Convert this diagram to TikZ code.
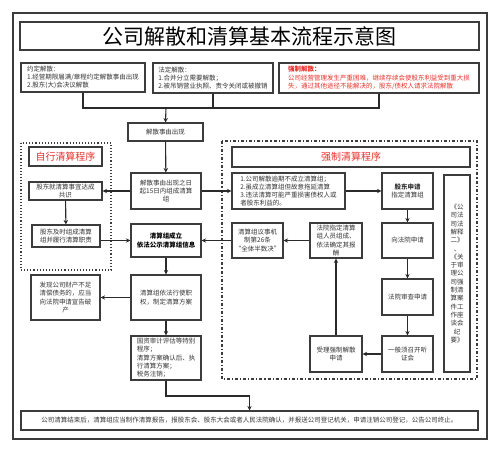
\documentclass[tikz,border=0pt]{standalone}
\usepackage{fontspec}
\setmainfont{Noto Sans CJK SC}
\usetikzlibrary{arrows.meta}
\definecolor{boxc}{HTML}{3C3C3C}
\definecolor{linec}{HTML}{2A2A2A}
\definecolor{txtc}{HTML}{333333}
\definecolor{redc}{HTML}{E8312A}
\begin{document}
\begin{tikzpicture}[x=1pt,y=-1pt,
  box/.style={draw=boxc, line width=1.1pt, align=center, inner sep=1pt, text=txtc,
    font=\fontsize{6.5}{8.3}\selectfont},
  arr/.style={-{Stealth[length=4.5pt,width=4.5pt]}, line width=1.1pt, draw=linec},
  ln/.style={line width=1.1pt, draw=linec},
  frame/.style={draw=boxc, line width=1.1pt}]
\useasboundingbox (0,0) rectangle (499,452);
% outer frame
\draw[frame] (13,13) rectangle (487,439);
% title
\node[box, minimum width=459pt, minimum height=28pt, text=black,
  font=\fontsize{21}{24}\selectfont] (title) at (249.5,36) {公司解散和清算基本流程示意图};
% top three boxes
\node[box, minimum width=124pt, minimum height=29pt, align=left] (yd) at (83,77.5)
  {约定解散：\\1.经营期限届满/章程约定解散事由出现\\2.股东(大)会决议解散};
\node[box, minimum width=120pt, minimum height=30pt, align=left] (fd) at (213,78)
  {法定解散：\\1.合并分立需要解散；\\2.被吊销营业执照、责令关闭或被撤销};
\node[box, minimum width=200pt, minimum height=30pt, align=left, text=redc] (qz) at (379,78)
  {\textbf{强制解散：}\\公司经营管理发生严重困难，继续存续会使股东利益受到重大损\\失，通过其他途径不能解决的，股东/债权人请求法院解散};
\coordinate (j) at (166,108);
\draw[ln] (yd.south) |- (j) -| (qz.south);
\draw[ln] (fd.south) -- (fd.south |- j);
% main column
\node[box, minimum width=75pt, minimum height=18pt] (jssy) at (165.5,132) {解散事由出现};
\draw[arr] (j) -- (jssy.north);
\node[box, minimum width=70pt, minimum height=36pt] (d15) at (166,191)
  {解散事由出现之日\\起15日内组成清算\\组};
\node[box, minimum width=70pt, minimum height=33pt, font=\fontsize{6.5}{8.3}\selectfont\bfseries, text=black] (qsz) at (166,240.5)
  {清算组成立\\依法公示清算组信息};
\node[box, minimum width=70pt, minimum height=45pt] (yf) at (166,297.5)
  {清算组依法行使职\\权，制定清算方案};
\node[box, minimum width=70pt, minimum height=44pt, align=left] (gz) at (166,358)
  {国资审计评估等特别\\程序；\\清算方案确认后、执\\行清算方案；\\税务注销；};
\node[box, minimum width=457pt, minimum height=19pt] (final) at (249.5,420.5)
  {公司清算结束后，清算组应当制作清算报告，报股东会、股东大会或者人民法院确认，并报送公司登记机关，申请注销公司登记，公告公司终止。};
% self liquidation
\draw[draw=boxc, line width=1.1pt, dotted] (21,143) rectangle (111,270);
\node[box, minimum width=73pt, minimum height=19pt, text=redc,
  font=\fontsize{10}{12}\selectfont] (zxt) at (65.5,156.5) {自行清算程序};
\node[box, minimum width=73pt, minimum height=18pt] (gdgs) at (65.5,191)
  {股东就清算事宜达成\\共识};
\node[box, minimum width=68pt, minimum height=22pt] (gdjs) at (66,236)
  {股东及时组成清算\\组并履行清算职责};
\node[box, minimum width=69pt, minimum height=45pt] (fx) at (65.5,297.5)
  {发现公司财产不足\\清偿债务的，应当\\向法院申请宣告破\\产};
% forced liquidation
\draw[draw=boxc, line width=1.1pt, dash dot] (222,141) rectangle (477,379);
\node[box, minimum width=238pt, minimum height=20pt, text=redc,
  font=\fontsize{10}{12}\selectfont] (qzt) at (351,157) {强制清算程序};
\node[box, minimum width=113pt, minimum height=36pt, align=left] (sit) at (288.5,191)
  {1.公司解散逾期不成立清算组；\\2.虽成立清算组但故意拖延清算\\3.违法清算可能严重损害债权人或\\者股东利益的。};
\node[box, minimum width=51pt, minimum height=36pt] (gdsq) at (407.5,191)
  {\textbf{股东申请}\\指定清算组};
\node[box, minimum width=26pt, minimum height=197pt] (law) at (457,273.5)
  {《公\\司法\\司法\\解释\\二》\\、\\《关\\于审\\理公\\司强\\制清\\算案\\件工\\作座\\谈会\\纪\\要》};
\node[box, minimum width=51pt, minimum height=35pt] (ysjz) at (257.5,240.5)
  {清算组议事机\\制第26条\\“全体半数决”};
\node[box, minimum width=52pt, minimum height=35pt] (fyzd) at (336,240.5)
  {法院指定清算\\组人员组成、\\依法确定其报\\酬};
\node[box, minimum width=51pt, minimum height=35pt] (xfy) at (407.5,240.5) {向法院申请};
\node[box, minimum width=51pt, minimum height=36pt] (fysc) at (407.5,297) {法院审查申请};
\node[box, minimum width=51pt, minimum height=36pt] (tzh) at (407.5,354)
  {一般须召开听\\证会};
\node[box, minimum width=52pt, minimum height=36pt] (sl) at (336,354)
  {受理强制解散\\申请};
% connectors
\draw[arr] (jssy) -- (d15);
\draw[arr] (d15.west) -- (gdgs.east);
\draw[arr] (d15.east) -- (sit.west);
\draw[arr] (gdgs) -- (gdjs);
\draw[arr] (gdjs.east |- qsz) -- (qsz.west);
\draw[arr] (fyzd.west) -- (ysjz.east);
\draw[arr] (ysjz.west) -- (qsz.east);
\draw[arr] (sit.east) -- (gdsq.west);
\draw[arr] (gdsq) -- (xfy);
\draw[arr] (xfy) -- (fysc);
\draw[arr] (fysc) -- (tzh);
\draw[arr] (tzh.west) -- (sl.east);
\draw[arr] (sl.north) -- (fyzd.south);
\draw[arr] (qsz) -- (yf);
\draw[arr] (yf.west) -- (fx.east);
\draw[arr] (yf) -- (gz);
\coordinate (k) at (249.5,396);
\draw[arr] (gz.south) |- (k) -- (final.north);
\end{tikzpicture}
\end{document}
